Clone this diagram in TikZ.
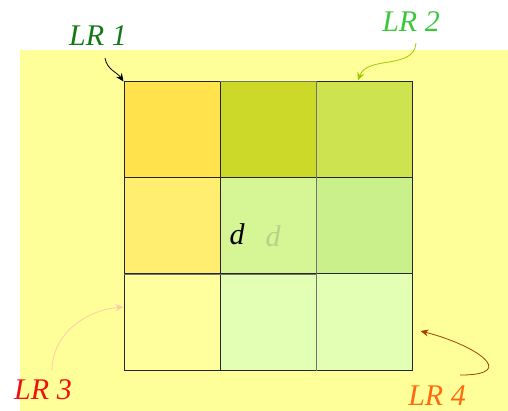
\documentclass[tikz,border=0pt]{standalone}
\usepackage{fontspec}
\setmainfont{Liberation Serif}
\usetikzlibrary{arrows.meta}

\definecolor{bgyellow}{RGB}{255,255,153}
\definecolor{cellA}{RGB}{255,226,76}
\definecolor{cellB}{RGB}{205,217,40}
\definecolor{cellC}{RGB}{205,228,80}
\definecolor{cellD}{RGB}{255,238,112}
\definecolor{cellE}{RGB}{214,245,148}
\definecolor{cellF}{RGB}{201,240,138}
\definecolor{cellG}{RGB}{255,255,158}
\definecolor{cellH}{RGB}{226,255,180}
\definecolor{lrone}{RGB}{20,120,20}
\definecolor{lrtwo}{RGB}{60,200,60}
\definecolor{lrthree}{RGB}{240,16,16}
\definecolor{lrfour}{RGB}{255,106,16}
\definecolor{arrtwo}{RGB}{153,204,0}
\definecolor{arrthree}{RGB}{255,204,170}
\definecolor{arrfour}{RGB}{160,64,0}
\definecolor{dfaint}{RGB}{181,210,140}

\begin{document}
\begin{tikzpicture}[
  x=1pt, y=-1pt,
  lrsq/.style={
    draw=black!85, line width=1pt,
    minimum size=192pt, inner sep=0pt
  },
  inner/.style={draw=black!55, line width=1pt},
  lrlabel/.style={
    font=\fontsize{30}{30}\selectfont\itshape,
    anchor=base, inner sep=0pt
  },
  arr/.style={-{Stealth[length=8pt, width=7pt]}, line width=0.8pt}
]
  \useasboundingbox (0,0) rectangle (508,411);
  \fill[bgyellow] (20,50) rectangle (508,411);

  % overlap cells, row by row
  \foreach \col [count=\i from 0] in {cellA,cellB,cellC,cellD,cellE,cellF,cellG,cellH,cellH} {
    \pgfmathtruncatemacro\cx{mod(\i,3)}
    \pgfmathtruncatemacro\cy{div(\i,3)}
    \fill[\col] (124+96*\cx,82+96*\cy) rectangle ++(96,96);
  }

  \node[lrsq] (lr1) at (220,178) {};
  \node[lrsq] (lr2) at (316,178) {};
  \node[lrsq] (lr3) at (220,274) {};
  \node[lrsq] (lr4) at (316,274) {};
  \draw[inner] (lr2.north west) -- (lr1.north east) -- (lr3.south east);
  \draw[inner] (lr1.south west) -- (lr1.south east);

  \node[lrlabel, anchor=base] (dblack) at (237,245) {d};
  \node[lrlabel, anchor=base, text=dfaint] (dgray) at (273,247) {d};

  \node[lrlabel, text=lrone] (t1) at (98,46) {LR 1};
  \node[lrlabel, text=lrtwo] (t2) at (411,32) {LR 2};
  \node[lrlabel, text=lrthree] (t3) at (43,399) {LR 3};
  \node[lrlabel, text=lrfour] (t4) at (437,405) {LR 4};

  \draw[arr, draw=black] ([shift={(7pt,-12pt)}]t1.south)
    to[out=-80, in=125] (lr1.north west);
  \draw[arr, draw=arrtwo] ([shift={(5pt,-11pt)}]t2.south)
    to[out=-95, in=70] ([shift={(42pt,1pt)}]lr2.north);
  \draw[arr, draw=arrthree] ([shift={(9pt,8pt)}]t3.north)
    to[out=90, in=185] ([yshift=-33pt]lr3.west);
  \draw[arr, draw=arrfour] ([shift={(23pt,10pt)}]t4.north)
    .. controls +(60,0) and +(55,14) .. ([shift={(8pt,-57pt)}]lr4.east);
\end{tikzpicture}
\end{document}
